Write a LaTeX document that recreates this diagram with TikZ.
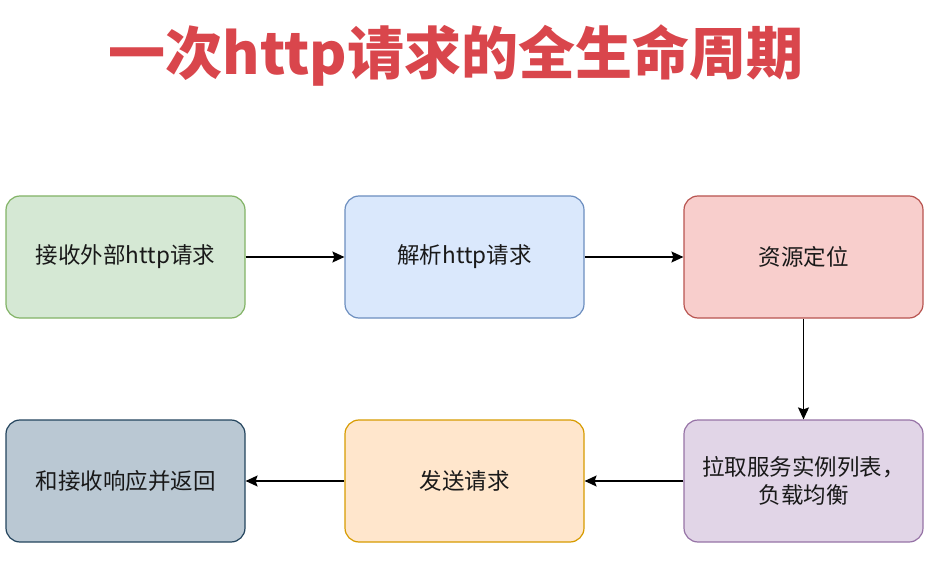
\documentclass[tikz,border=0pt]{standalone}
\usepackage{fontspec}
\setmainfont{Noto Sans CJK SC}
\usepackage{xcolor}
\usetikzlibrary{positioning,arrows.meta}
\definecolor{titlered}{HTML}{D9464C}
\definecolor{greenfill}{HTML}{D5E8D4}
\definecolor{greenline}{HTML}{82B366}
\definecolor{bluefill}{HTML}{DAE8FC}
\definecolor{blueline}{HTML}{6C8EBF}
\definecolor{redfill}{HTML}{F8CECC}
\definecolor{redline}{HTML}{B85450}
\definecolor{purplefill}{HTML}{E1D5E7}
\definecolor{purpleline}{HTML}{9673A6}
\definecolor{orangefill}{HTML}{FFE6CC}
\definecolor{orangeline}{HTML}{D79B00}
\definecolor{grayfill}{HTML}{BAC8D3}
\definecolor{grayline}{HTML}{23445D}
\tikzset{
  blk/.style={rectangle, rounded corners=14pt, draw=#1line, fill=#1fill,
              line width=1.2pt, align=center, text=black!90,
              minimum width=239pt, minimum height=122pt,
              font=\fontsize{22.5}{28}\selectfont},
  arb/.style={-{Stealth[length=12pt,width=11pt,inset=2pt]}, line width=1.4pt, draw=black},
}

\begin{document}
\begin{tikzpicture}
  \useasboundingbox (0,0) rectangle (934pt,-561pt);
  \node[font=\fontsize{57}{62}\selectfont\bfseries, text=titlered] (title) at (456pt,-55pt) {一次http请求的全生命周期};

  \node[blk=green] (recv) at (125.5pt,-257pt) {接收外部http请求};
  \node[blk=blue, right=98.8pt of recv] (parse) {解析http请求};
  \node[blk=red, right=98.8pt of parse] (locate) {资源定位};
  \node[blk=purple, below=100.8pt of locate] (fetch) {拉取服务实例列表，\\负载均衡};
  \node[blk=orange, left=98.8pt of fetch] (send) {发送请求};
  \node[blk=gray, left=98.8pt of send] (back) {和接收响应并返回};

  \draw[arb] (recv) -- (parse);
  \draw[arb] (parse) -- (locate);
  \draw[arb] (locate) -- (fetch);
  \draw[arb] (fetch) -- (send);
  \draw[arb] (send) -- (back);
\end{tikzpicture}
\end{document}
